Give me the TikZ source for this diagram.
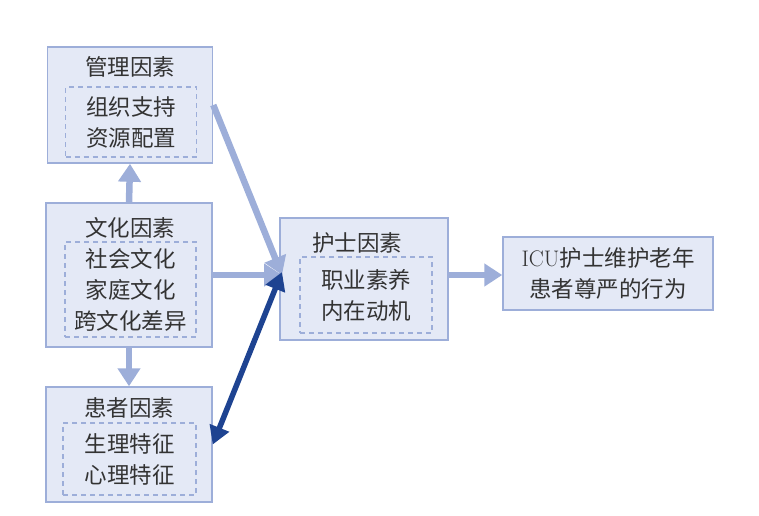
\documentclass[tikz,border=0pt]{standalone}
\usepackage{fontspec}
\newfontfamily\cjk{Noto Sans CJK SC}
\usetikzlibrary{arrows.meta}
\definecolor{boxfill}{HTML}{E4E9F6}
\definecolor{boxline}{HTML}{9DAED9}
\definecolor{arrlight}{HTML}{9DAED9}
\definecolor{arrdark}{HTML}{1E4391}
\begin{document}
\begin{tikzpicture}[x=1pt, y=-1pt,
  every node/.style = {font=\cjk\fontsize{22.5}{31}\selectfont, text=black!80},
  factor/.style = {draw=boxline, line width=1.5pt, fill=boxfill, inner sep=0pt},
  inner/.style = {draw=boxline, dash pattern=on 5pt off 4pt, line width=1.2pt, inner sep=0pt, align=center},
  flow/.style = {draw=arrlight, line width=6.5pt, -{Triangle[width=22pt,length=18pt]}},
  link/.style = {draw=arrdark, line width=5.5pt, {Triangle[width=20pt,length=18pt]}-{Triangle[width=20pt,length=18pt]}}]
  \useasboundingbox (0,0) rectangle (759,515);
  % factor boxes
  \node[factor, minimum width=165pt, minimum height=116pt] (mgmt) at (130,105) {};
  \node (mgmtT) at (130,67) {管理因素};
  \node[inner, minimum width=131pt, minimum height=70pt] (mgmtI) at (131,122) {组织支持\\资源配置};
  \node[factor, minimum width=166pt, minimum height=144pt] (cul) at (129,275) {};
  \node (culT) at (130,228) {文化因素};
  \node[inner, minimum width=131pt, minimum height=95pt] (culI) at (130.5,289.5) {社会文化\\家庭文化\\跨文化差异};
  \node[factor, minimum width=166pt, minimum height=115pt] (pat) at (129,444.5) {};
  \node (patT) at (129,408) {患者因素};
  \node[inner, minimum width=133pt, minimum height=72pt] (patI) at (129.5,459) {生理特征\\心理特征};
  \node[factor, minimum width=168pt, minimum height=122pt] (nurse) at (364,279) {};
  \node (nurseT) at (357,243) {护士因素};
  \node[inner, minimum width=132pt, minimum height=76pt] (nurseI) at (366,295) {职业素养\\内在动机};
  \node[factor, minimum width=210pt, minimum height=73pt, align=center] (out) at (608,273.5)
    {{\rmfamily ICU}护士维护老年\\患者尊严的行为};
  \coordinate (hub) at (282,275);
  % connectors
  \draw[flow] (cul.north) -- (mgmt.south);
  \draw[flow] (cul.south) -- (pat.north);
  \draw[flow] (mgmt.east) -- (hub);
  \draw[flow] (cul.east |- hub) -- (hub);
  \draw[link] (pat.east) -- ([yshift=3pt]hub);
  \draw[flow] (nurse.east |- hub) -- (out.west |- hub);
\end{tikzpicture}
\end{document}
